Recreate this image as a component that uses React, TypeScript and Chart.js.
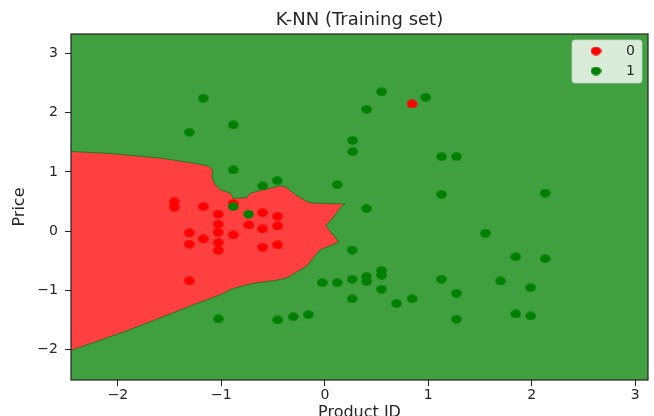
import React, { useEffect, useRef } from 'react';
import { Chart, registerables } from 'chart.js';

Chart.register(...registerables);

const TITLE = 'K-NN (Training set)';
const X_LABEL = 'Product ID';
const Y_LABEL = 'Price';
const CLASS_LABELS = ['0', '1'];

// class 0 (red) points
const class0X = [-1.456, -1.456, -1.176, -0.886, -1.031, -0.602, -0.457, -1.031, -0.734, -0.602, -0.457, -1.311, -1.031, -0.886, -1.176, -1.311, -1.031, -1.031, -0.602, -0.457, -1.311, 0.843];
const class0Y = [0.498, 0.404, 0.414, 0.468, 0.285, 0.313, 0.252, 0.117, 0.105, 0.037, 0.088, -0.030, -0.019, -0.064, -0.132, -0.220, -0.191, -0.323, -0.272, -0.233, -0.841, 2.149];

// class 1 (green) points
const class1X = [-1.176, 0.548, 0.976, 0.403, -0.886, -1.311, 0.268, 0.268, 1.128, 1.272, -0.886, -0.461, -0.602, 0.119, 1.128, 2.129, -0.886, -0.737, 0.403, 1.553, 0.264, 1.845, 2.129, -0.026, 0.119, 0.264, 0.403, 0.403, 0.548, 0.548, 0.548, 1.128, 1.272, 1.698, 1.990, 0.264, 0.693, 0.843, 1.845, 1.990, 1.272, -1.031, -0.457, -0.306, -0.161];
const class1Y = [2.245, 2.356, 2.262, 2.059, 1.794, 1.671, 1.532, 1.343, 1.258, 1.258, 1.034, 0.853, 0.764, 0.789, 0.620, 0.645, 0.414, 0.287, 0.383, -0.035, -0.318, -0.431, -0.465, -0.870, -0.870, -0.813, -0.769, -0.850, -0.667, -0.745, -0.981, -0.811, -1.049, -0.841, -0.954, -1.142, -1.221, -1.142, -1.399, -1.432, -1.488, -1.483, -1.500, -1.444, -1.410];

// decision region for class 0 (outline, clockwise)
const regionX = [-2.454, -2.077, -1.594, -1.275, -1.130, -1.082, -1.092, -1.063, -1.014, -0.908, -0.886, -0.754, -0.725, -0.628, -0.435, -0.377, -0.280, -0.174, -0.116, 0.193, 0.155, 0.077, 0.010, 0.058, 0.135, 0.058, -0.048, -0.116, -0.174, -0.271, -0.367, -0.483, -0.696, -0.889, -1.014, -1.275, -1.594, -1.918, -2.454];
const regionY = [1.346, 1.313, 1.236, 1.152, 1.101, 1.034, 0.916, 0.797, 0.704, 0.637, 0.552, 0.569, 0.637, 0.688, 0.764, 0.747, 0.611, 0.502, 0.476, 0.459, 0.409, 0.223, 0.096, -0.014, -0.182, -0.242, -0.318, -0.461, -0.588, -0.689, -0.791, -0.833, -0.883, -0.968, -1.078, -1.247, -1.466, -1.686, -2.015];

const X_MIN = -2.454;
const X_MAX = 3.124;
const Y_MIN = -2.514;
const Y_MAX = 3.331;
const xTicks = [-2, -1, 0, 1, 2, 3];
const yTicks = [-2, -1, 0, 1, 2, 3];

const FONT = 'DejaVu Sans';
const TEXT = '#262626';
const BG_GREEN = '#40A040';
const REGION_RED = '#FF4040';
const RED = '#FF0000';
const GREEN = '#008000';

const fmt = (v: number) => (v < 0 ? '\u2212' + Math.abs(v) : String(v));

function makeDot(color: string): HTMLCanvasElement {
  const c = document.createElement('canvas');
  c.width = 11;
  c.height = 9;
  const g = c.getContext('2d')!;
  g.fillStyle = color;
  g.beginPath();
  g.ellipse(5.5, 4.5, 5.3, 4.2, 0, 0, Math.PI * 2);
  g.fill();
  return c;
}

export default function App() {
  const ref = useRef<HTMLCanvasElement | null>(null);

  useEffect(() => {
    if (!ref.current) return;
    const redDot = makeDot(RED);
    const greenDot = makeDot(GREEN);

    const bgAndFrame = {
      id: 'bgAndFrame',
      beforeDatasetsDraw(chart: any) {
        const { ctx, chartArea: a } = chart;
        ctx.save();
        ctx.fillStyle = BG_GREEN;
        ctx.fillRect(a.left, a.top, a.right - a.left, a.bottom - a.top);
        ctx.restore();
      },
      afterDatasetsDraw(chart: any) {
        const { ctx, chartArea: a } = chart;
        ctx.save();
        ctx.strokeStyle = '#222';
        ctx.lineWidth = 1.2;
        ctx.strokeRect(a.left, a.top, a.right - a.left, a.bottom - a.top);

        // legend
        const w = 70;
        const h = 43;
        const bx = a.right - 6 - w;
        const by = a.top + 6;
        ctx.fillStyle = 'rgba(255,255,255,0.8)';
        ctx.strokeStyle = 'rgba(204,204,204,0.8)';
        ctx.lineWidth = 1;
        ctx.beginPath();
        (ctx as any).roundRect(bx, by, w, h, 3);
        ctx.fill();
        ctx.stroke();
        const dots = [redDot, greenDot];
        ctx.font = `14px "${FONT}"`;
        ctx.fillStyle = TEXT;
        ctx.textBaseline = 'middle';
        ctx.textAlign = 'left';
        for (let i = 0; i < 2; i++) {
          const cy = by + 11 + i * 20;
          const d = dots[i];
          ctx.drawImage(d, bx + 24 - d.width / 2, cy - d.height / 2);
          ctx.fillText(chart.data.datasets[i].label, bx + 54, cy);
        }
        ctx.restore();
      },
    };

    const chart = new Chart(ref.current, {
      type: 'scatter',
      data: {
        datasets: [
          {
            label: CLASS_LABELS[0],
            data: class0X.map((x, i) => ({ x, y: class0Y[i] })),
            pointStyle: redDot as any,
            pointRadius: 5,
            backgroundColor: RED,
            borderColor: RED,
            order: 2,
          },
          {
            label: CLASS_LABELS[1],
            data: class1X.map((x, i) => ({ x, y: class1Y[i] })),
            pointStyle: greenDot as any,
            pointRadius: 5,
            backgroundColor: GREEN,
            borderColor: GREEN,
            order: 1,
          },
          {
            type: 'line' as any,
            label: 'region',
            data: regionX.map((x, i) => ({ x, y: regionY[i] })),
            fill: 'shape' as any,
            backgroundColor: REGION_RED,
            borderColor: 'rgba(20,110,20,0.75)',
            borderWidth: 1,
            pointRadius: 0,
            tension: 0,
            clip: 0 as any,
            order: 3,
          },
        ],
      },
      options: {
        animation: false,
        responsive: false,
        events: [],
        layout: { padding: { left: 0, right: 6, top: 0, bottom: 0 } },
        plugins: {
          legend: { display: false },
          tooltip: { enabled: false },
          title: {
            display: true,
            text: TITLE,
            fullSize: false,
            color: TEXT,
            font: { family: FONT, size: 18, weight: 'normal', lineHeight: 1.2 },
            padding: { top: 9.5, bottom: 2.9 },
          },
        },
        scales: {
          x: {
            type: 'linear',
            min: X_MIN,
            max: X_MAX,
            afterBuildTicks: (s: any) => {
              s.ticks = xTicks.map((v) => ({ value: v }));
            },
            afterFit: (s: any) => {
              s.height = 36;
            },
            ticks: {
              font: { family: FONT, size: 14 },
              color: TEXT,
              padding: 1,
              maxRotation: 0,
              autoSkip: false,
              callback: (v: any) => fmt(Number(v)),
            },
            grid: {
              display: true,
              drawOnChartArea: false,
              drawTicks: true,
              tickLength: 6,
              tickColor: '#222',
              color: '#222',
            },
            border: { display: false },
            title: {
              display: true,
              text: X_LABEL,
              color: TEXT,
              font: { family: FONT, size: 16, lineHeight: 1.2 },
              padding: { top: 0, bottom: -6 },
            },
          },
          y: {
            type: 'linear',
            min: Y_MIN,
            max: Y_MAX,
            afterBuildTicks: (s: any) => {
              s.ticks = yTicks.map((v) => ({ value: v }));
            },
            afterFit: (s: any) => {
              s.width = 71;
            },
            ticks: {
              font: { family: FONT, size: 14 },
              color: TEXT,
              padding: 7,
              autoSkip: false,
              callback: (v: any) => fmt(Number(v)),
            },
            grid: {
              display: true,
              drawOnChartArea: false,
              drawTicks: true,
              tickLength: 6,
              tickColor: '#222',
              color: '#222',
            },
            border: { display: false },
            title: {
              display: true,
              text: Y_LABEL,
              color: TEXT,
              font: { family: FONT, size: 16, lineHeight: 1.2 },
              padding: { top: 10, bottom: 0 },
            },
          },
        },
      },
      plugins: [bgAndFrame],
    } as any);

    return () => chart.destroy();
  }, []);

  return (
    <div style={{ position: 'absolute', left: 0, top: 0, width: 654, height: 416, background: '#fff' }}>
      <canvas ref={ref} width={654} height={416} style={{ display: 'block', width: 654, height: 416 }} />
    </div>
  );
}
